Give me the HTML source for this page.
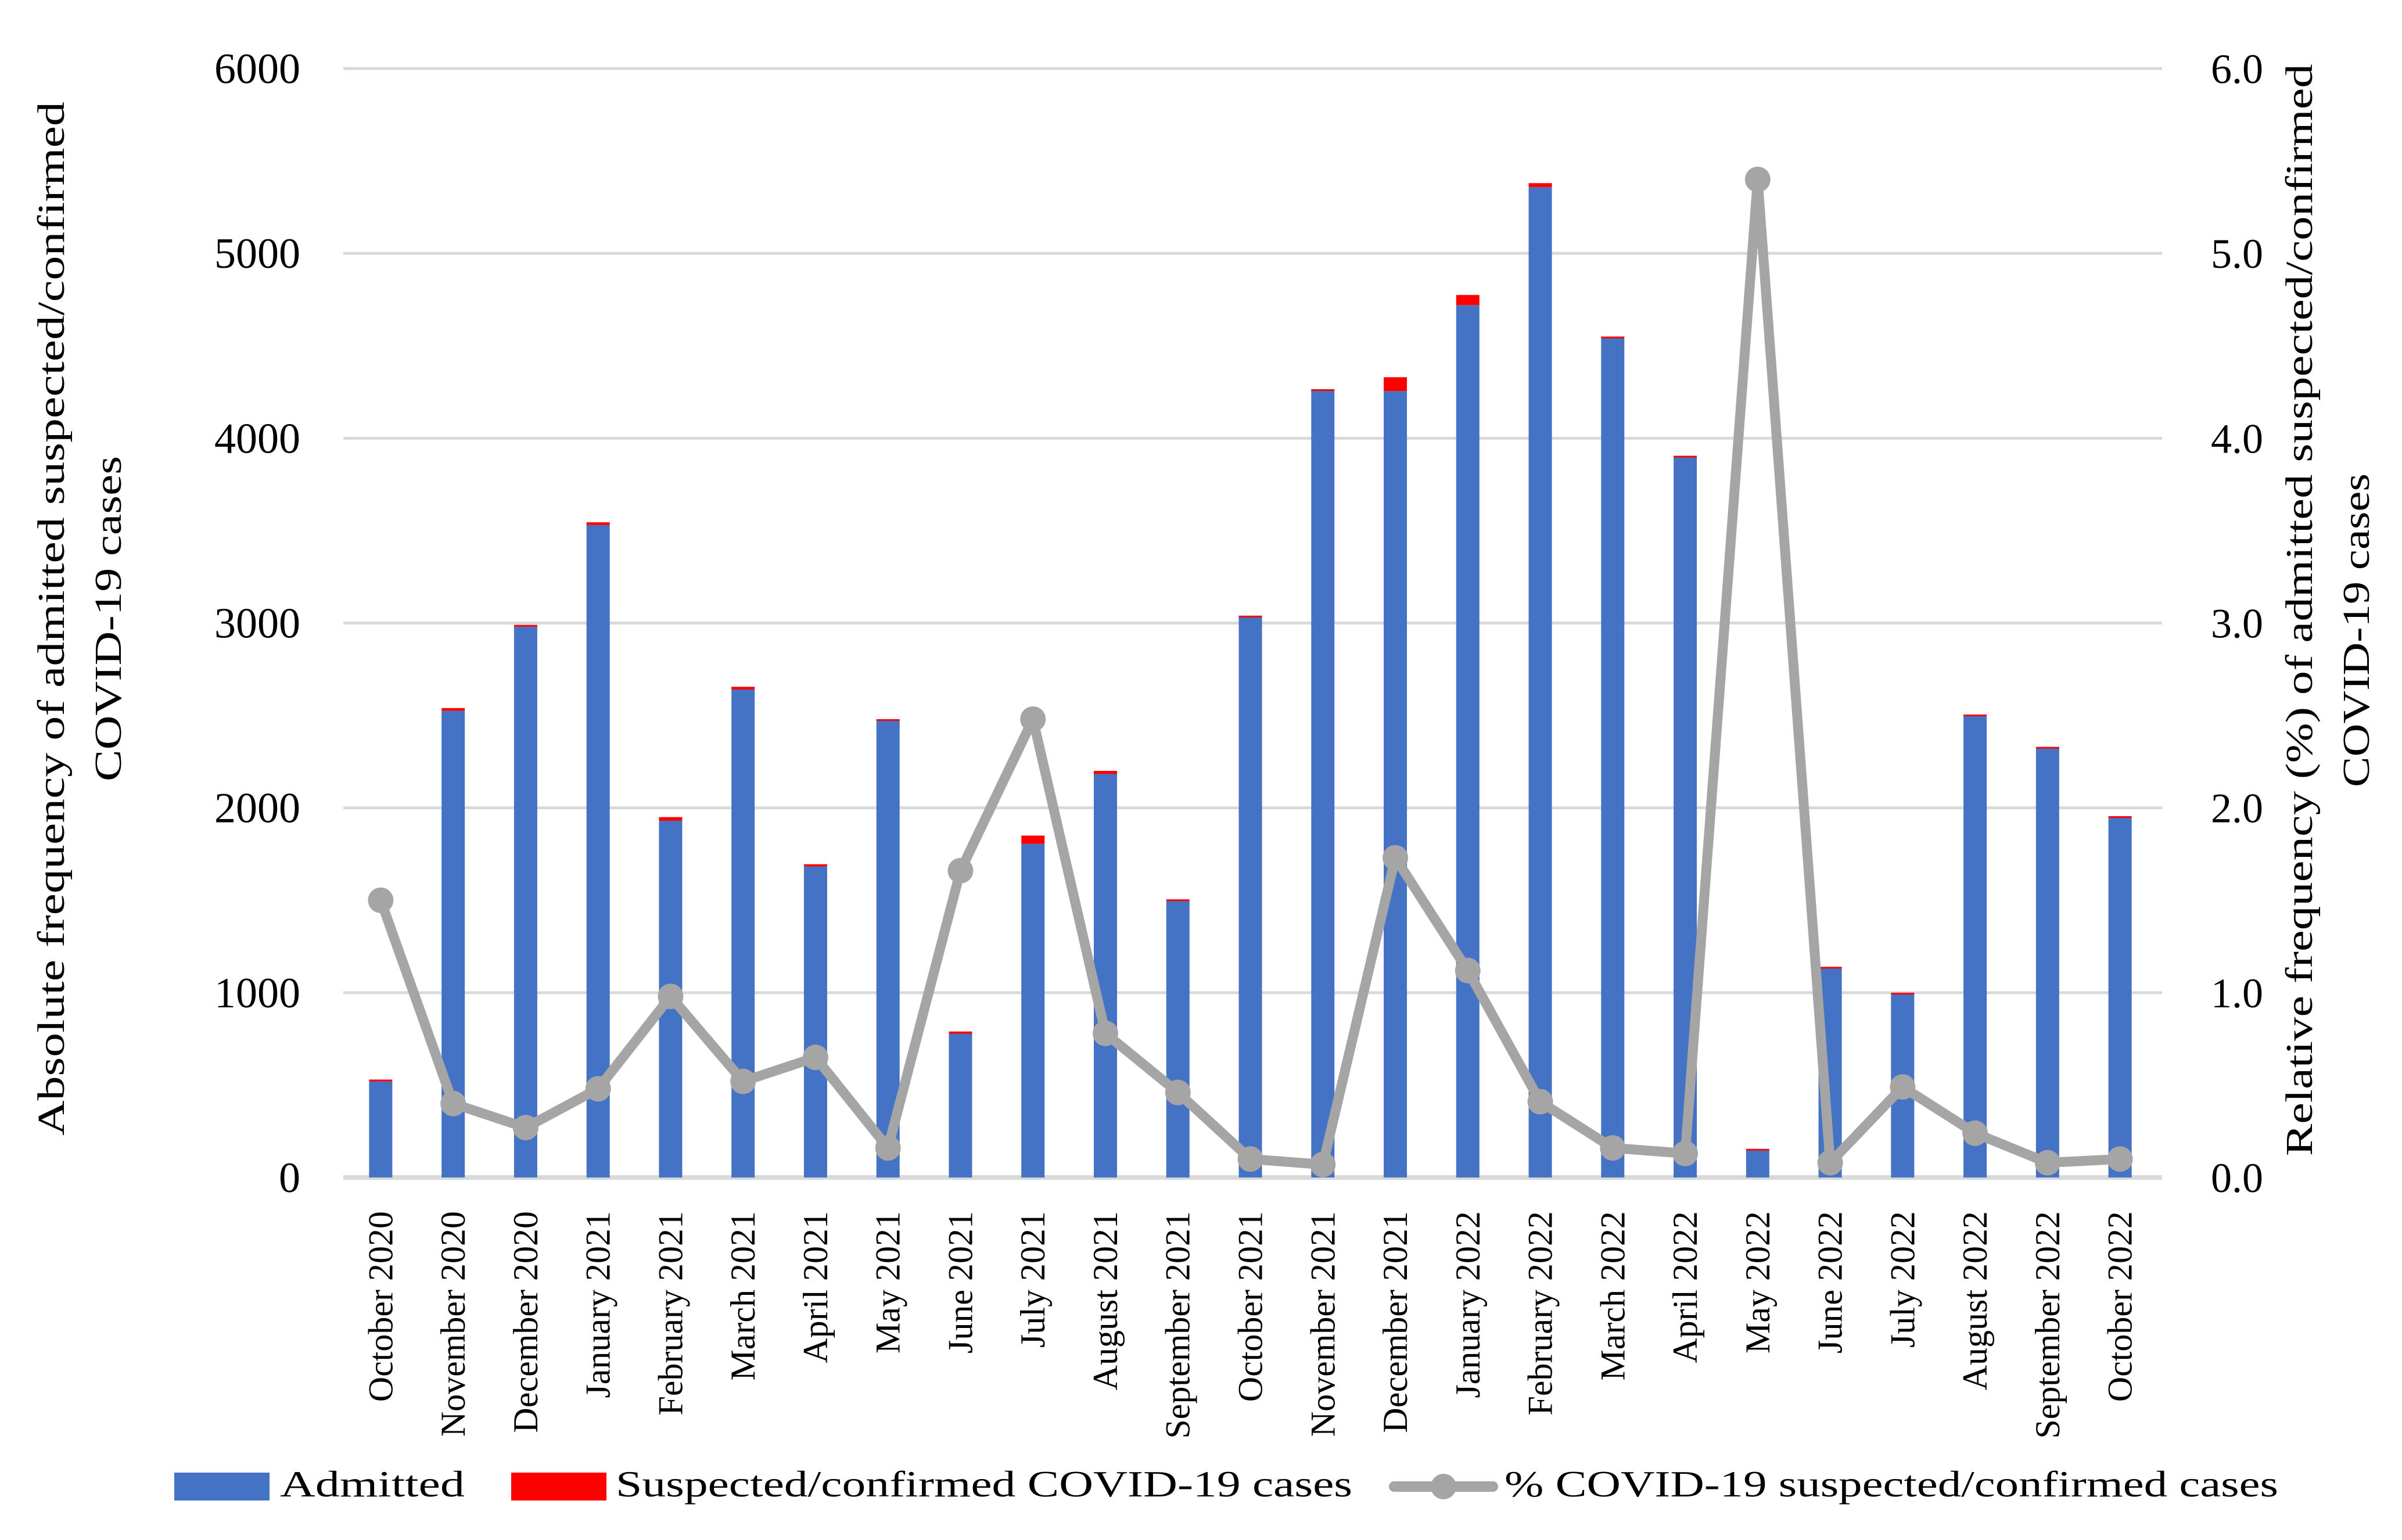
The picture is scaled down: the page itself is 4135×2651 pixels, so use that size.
<!DOCTYPE html>
<html><head><meta charset="utf-8"><style>
html,body{margin:0;padding:0;background:#fff;}
svg{display:block;font-family:"Liberation Serif",serif;}
</style></head><body>
<svg id="chart" width="4135" height="2651" viewBox="0 0 4135 2651" xmlns="http://www.w3.org/2000/svg">
<g id="grid"></g>
<g id="bars"></g>
<g id="line"></g>
<g id="axes"></g>
<text transform="translate(110,1065) rotate(-90)" text-anchor="middle" font-size="66" textLength="1780" lengthAdjust="spacingAndGlyphs">Absolute frequency of admitted suspected/confirmed</text>
<text transform="translate(208,1065) rotate(-90)" text-anchor="middle" font-size="66" textLength="560" lengthAdjust="spacingAndGlyphs">COVID-19 cases</text>
<text transform="translate(3980,1050) rotate(-90)" text-anchor="middle" font-size="66" textLength="1880" lengthAdjust="spacingAndGlyphs">Relative frequency (%) of admitted suspected/confirmed</text>
<text transform="translate(4078,1085) rotate(-90)" text-anchor="middle" font-size="66" textLength="540" lengthAdjust="spacingAndGlyphs">COVID-19 cases</text>
<g>
<rect x="300" y="2535" width="164" height="48" fill="#4472c4"/>
<text x="482" y="2576" font-size="64" textLength="318" lengthAdjust="spacingAndGlyphs">Admitted</text>
<rect x="880" y="2535" width="164" height="48" fill="#ff0000"/>
<text x="1060" y="2576" font-size="64" textLength="1268" lengthAdjust="spacingAndGlyphs">Suspected/confirmed COVID-19 cases</text>
<line x1="2400" y1="2559" x2="2570" y2="2559" stroke="#a5a5a5" stroke-width="18" stroke-linecap="round"/>
<circle cx="2485" cy="2559" r="22" fill="#a5a5a5"/>
<text x="2590" y="2576" font-size="64" textLength="1332" lengthAdjust="spacingAndGlyphs">% COVID-19 suspected/confirmed cases</text>
</g>
</svg>
<script>
const categories=["October 2020","November 2020","December 2020","January 2021","February 2021","March 2021","April 2021","May 2021","June 2021","July 2021","August 2021","September 2021","October 2021","November 2021","December 2021","January 2022","February 2022","March 2022","April 2022","May 2022","June 2022","July 2022","August 2022","September 2022","October 2022"];
const admitted=[520,2525,2980,3530,1930,2640,1683,2475,778,1805,2183,1498,3037,4262,4255,4720,5358,4543,3900,147,1139,995,2499,2328,1953];
const suspected=[10,15,10,15,20,15,12,5,12,45,17,7,3,3,75,55,22,7,5,8,1,5,6,2,2];
const percent=[1.5,0.4,0.27,0.48,0.98,0.52,0.65,0.16,1.66,2.48,0.78,0.46,0.1,0.07,1.73,1.12,0.41,0.16,0.13,5.4,0.08,0.49,0.24,0.08,0.1];
const leftTicks=[0,1000,2000,3000,4000,5000,6000];
const rightTicks=["0.0","1.0","2.0","3.0","4.0","5.0","6.0"];

const NS="http://www.w3.org/2000/svg";
const X0=593,X1=3712,Y0=2027,YT=118;
const band=(X1-X0)/categories.length;
const xc=i=>X0+band*(i+0.5);
const yL=v=>Y0-(v/6000)*(Y0-YT);
const yR=v=>Y0-(v/6)*(Y0-YT);
function mk(tag,attrs,parent){const e=document.createElementNS(NS,tag);for(const k in attrs)e.setAttribute(k,attrs[k]);parent.appendChild(e);return e;}
const grid=document.getElementById('grid'),bars=document.getElementById('bars'),line=document.getElementById('line'),axes=document.getElementById('axes');
leftTicks.forEach((t,i)=>{
  const g=mk('line',{x1:591,x2:3722,y1:yL(t),y2:yL(t),stroke:'#d9d9d9','stroke-width':i===0?8:5},grid);
  
  
  const lt=mk('text',{x:517,y:yL(t)+25,'text-anchor':'end','font-size':74},axes);
  lt.textContent=t;
  
  
  const rt=mk('text',{x:3851,y:yL(t)+25,'text-anchor':'middle','font-size':72},axes);
  rt.textContent=rightTicks[i];
  
  
});
const bw=40;
categories.forEach((c,i)=>{
  const x=xc(i)-bw/2;
  const b=mk('rect',{x:x,y:yL(admitted[i]),width:bw,height:Y0-yL(admitted[i]),fill:'#4472c4'},bars);
  
  
  const r=mk('rect',{x:x,y:yL(admitted[i]+suspected[i]),width:bw,height:Math.max(yL(admitted[i])-yL(admitted[i]+suspected[i]),3),fill:'#ff0000'},bars);
  
  
  const t=mk('text',{transform:`translate(${xc(i)+20},2085) rotate(-90)`,'text-anchor':'end','font-size':60},axes);
  t.textContent=c;
  
  
});
const pts=percent.map((p,i)=>xc(i)+','+yR(p)).join(' ');
const pl=mk('polyline',{points:pts,fill:'none',stroke:'#a5a5a5','stroke-width':17,'stroke-linejoin':'round'},line);


percent.forEach((p,i)=>{
  const m=mk('circle',{cx:xc(i),cy:yR(p),r:22,fill:'#a5a5a5'},line);
  
  
});
</script>
</body></html>
